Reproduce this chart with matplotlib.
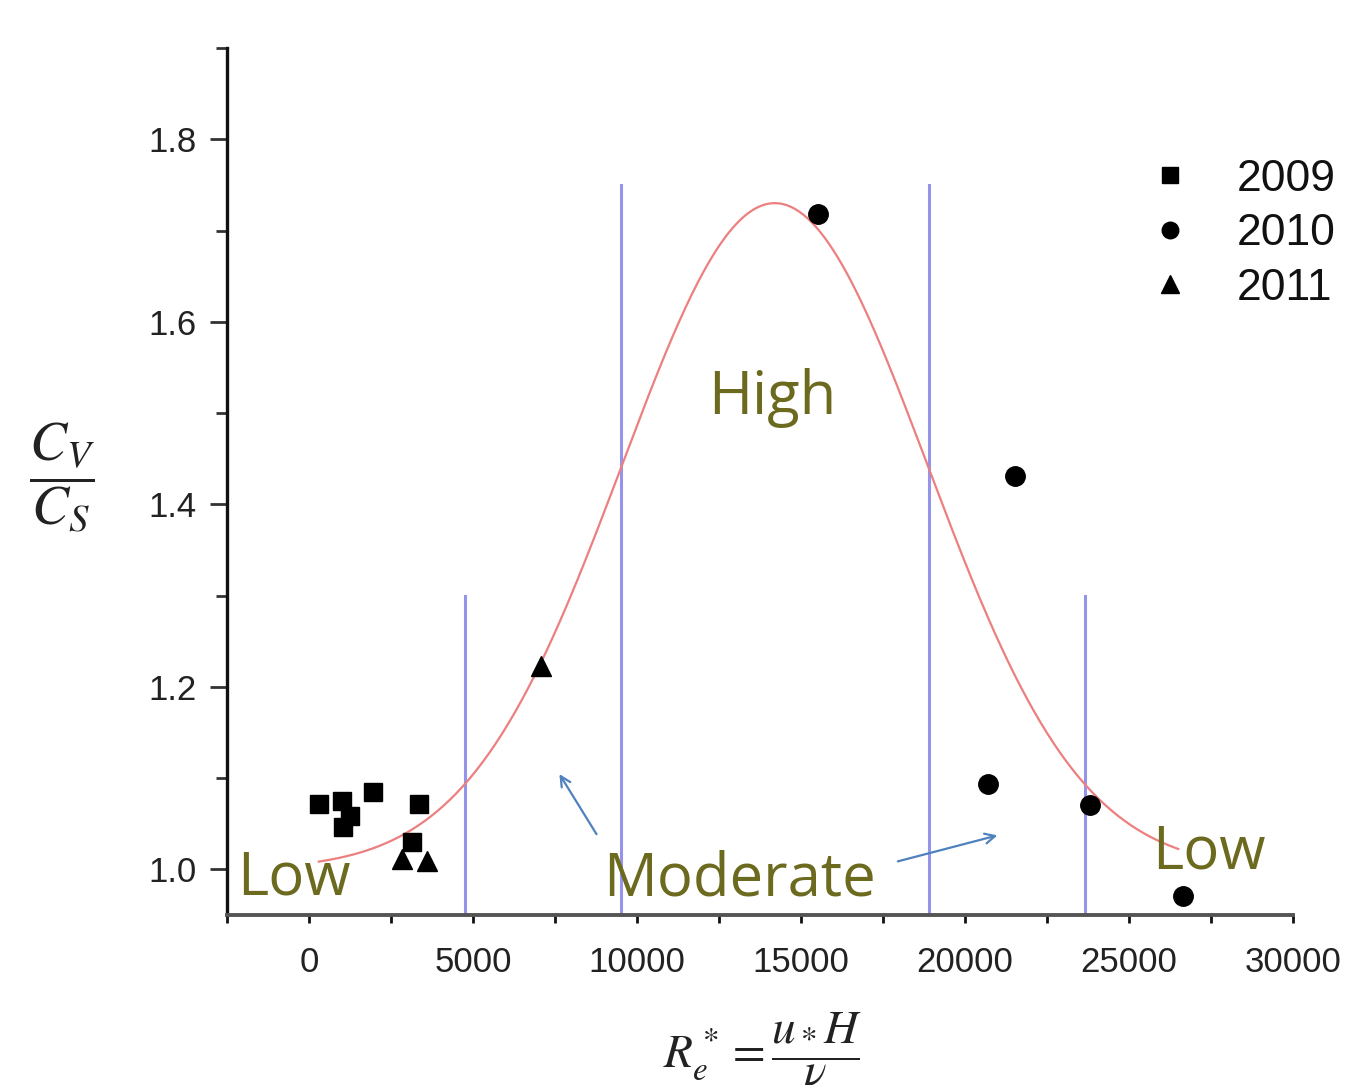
import numpy as np
import matplotlib
matplotlib.use("Agg")
import matplotlib.pyplot as plt
from matplotlib.ticker import MultipleLocator

plt.rcParams['mathtext.fontset'] = 'stix'

# ---- data ----
x2009 = [305, 1006, 1250, 1037, 1951, 3354, 3140]
y2009 = [1.072, 1.075, 1.058, 1.046, 1.085, 1.072, 1.030]
x2010 = [15518, 21524, 20701, 23811, 26646]
y2010 = [1.718, 1.431, 1.094, 1.071, 0.971]
x2011 = [2835, 3598, 7073]
y2011 = [1.011, 1.009, 1.223]

# Gaussian fit parameters
fit_y0 = 1.0
fit_A = 0.73
fit_xc = 14200
fit_w = 4660
fit_xmin, fit_xmax = 300, 26500

# region boundaries (x) and their heights
bound_x = [4750, 9500, 18900, 23650]
bound_top = [1.30, 1.75, 1.75, 1.30]

xticks = [0, 5000, 10000, 15000, 20000, 25000, 30000]
yticks = [1.0, 1.2, 1.4, 1.6, 1.8]

fig = plt.figure(figsize=(13.45, 10.85), dpi=100)
ax = fig.add_axes([227/1345, 1-915/1085, (1293-227)/1345, (915-48)/1085])
ax.set_xlim(-2500, 30000)
ax.set_ylim(0.95, 1.90)

for xb, yt in zip(bound_x, bound_top):
    ax.plot([xb, xb], [0.95, yt], color='#9494ea', lw=2.2, zorder=1)

xf = np.linspace(fit_xmin, fit_xmax, 400)
yf = fit_y0 + fit_A * np.exp(-(xf - fit_xc) ** 2 / (2 * fit_w ** 2))
ax.plot(xf, yf, color='#ec7f7f', lw=1.6, zorder=2)

ax.plot(x2009, y2009, 's', color='black', ms=13, ls='none', label='2009', zorder=3)
ax.plot(x2010, y2010, 'o', color='black', ms=14, ls='none', label='2010', zorder=3)
ax.plot(x2011, y2011, '^', color='black', ms=15, ls='none', label='2011', zorder=3)

for s in ['top', 'right']:
    ax.spines[s].set_visible(False)
ax.spines['left'].set_linewidth(2.4)
ax.spines['bottom'].set_linewidth(2.8)
ax.spines['bottom'].set_color('#555555')
ax.spines['left'].set_color('#111111')

tick_font = 'Liberation Sans'
ax.set_xticks(xticks)
ax.set_yticks(yticks)
ax.set_yticklabels([f'{v:.1f}' for v in yticks])
ax.xaxis.set_minor_locator(MultipleLocator(2500))
ax.yaxis.set_minor_locator(MultipleLocator(0.1))
ax.tick_params(axis='y', which='major', direction='out', length=12, width=2, pad=10,
               labelsize=25, labelcolor='#222222', color='#333333')
ax.tick_params(axis='y', which='minor', direction='out', length=8, width=2, color='#333333')
ax.tick_params(axis='x', which='both', direction='out', length=6, width=2, pad=16,
               labelsize=25, labelcolor='#222222', color='#111111')
for lab in ax.get_xticklabels() + ax.get_yticklabels():
    lab.set_fontfamily(tick_font)

tc = '#6b6a1e'
tfont = dict(family='Open Sans', fontsize=43, color=tc, va='baseline', ha='left')
ax.text(-2195, 0.9726, 'Low', **tfont)
ax.text(8963, 0.9715, 'Moderate', **tfont)
ax.text(12165, 1.4993, 'High', **tfont)
ax.text(25701, 1.001, 'Low', **tfont)

arrow_kw = dict(arrowstyle='->', color='#4f81bd', lw=1.6, mutation_scale=18)
ax.annotate('', xy=(7590, 1.107), xytext=(8810, 1.036), arrowprops=arrow_kw)
ax.annotate('', xy=(21070, 1.038), xytext=(17870, 1.008), arrowprops=arrow_kw)

leg = ax.legend(loc='upper right', bbox_to_anchor=(1.0, 1-150/1085),
                bbox_transform=fig.transFigure, frameon=False,
                prop={'family': tick_font, 'size': 32},
                handlelength=0.8, handletextpad=1.1, labelspacing=0.3, markerscale=0.85,
                borderaxespad=0.0, borderpad=0.2)
for t in leg.get_texts():
    t.set_color('#111111')

fig.text(62/1345, 1-478/1085, r'$\dfrac{C_V}{C_S}$', fontsize=40, ha='center', va='center',
         color='#222222')
fig.text(762/1345, 1-1050/1085, r'$R_e^* = \dfrac{u_* H}{\nu}$', fontsize=34, ha='center',
         va='center', color='#222222')

fig.savefig('out.png', dpi=100)
